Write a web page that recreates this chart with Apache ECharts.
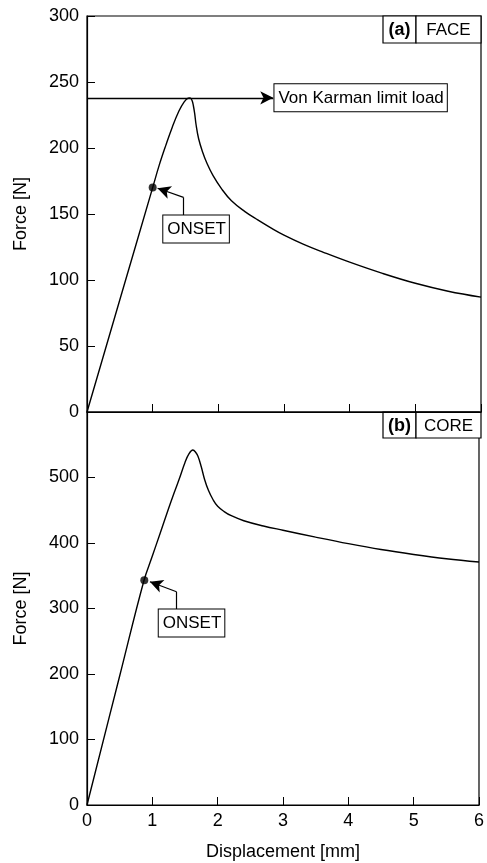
<!DOCTYPE html>
<html>
<head>
<meta charset="utf-8">
<script src="https://cdn.jsdelivr.net/npm/echarts@6/dist/echarts.min.js"></script>
<style>
html, body { margin: 0; padding: 0; background: #fff; }
#chart { width: 487px; height: 863px; }
</style>
</head>
<body>
<div id="chart"></div>
<script>
// (a) FACE panel: force vs displacement
var dispFace = [0, 0.5, 1.0, 1.1, 1.2, 1.3, 1.4, 1.48, 1.54, 1.57, 1.60, 1.62, 1.64, 1.66, 1.70, 1.76, 1.83, 1.92, 2.05, 2.2, 2.4, 2.6, 2.8, 3.0, 3.3, 3.6, 4.0, 4.5, 5.0, 5.5, 6.0];
var forceFace = [0, 85, 170, 187, 202, 216, 228, 235, 237.8, 238, 236, 232, 226, 218, 207, 197, 188, 179, 169, 160, 152, 145.5, 139.5, 134, 127, 121, 113.5, 105, 97.5, 91.5, 87];

// (b) CORE panel
var dispCore = [0, 0.5, 0.87, 1.0, 1.12, 1.25, 1.35, 1.42, 1.50, 1.56, 1.62, 1.66, 1.70, 1.75, 1.80, 1.86, 1.93, 2.0, 2.1, 2.2, 2.4, 2.7, 3.0, 3.5, 4.0, 4.5, 5.0, 5.5, 6.0];
var forceCore = [0, 197, 342, 380, 415, 453, 481, 500, 523, 536, 542, 539, 532, 516, 497, 480, 466, 456, 448, 442, 434, 426, 419.5, 409, 399, 390, 382.5, 376, 371];

var onsetFace = [1.0, 170];
var onsetCore = [0.877, 343];
var vonKarmanLoad = 238;

// annotation anchors, in data units
var vkArrowEnd = 2.836;
var vkBox = [4.167, 238];
var faceLeader = [[1.47, 148.5], [1.47, 162.6], [1.075, 169.5]];
var faceBox = [1.661, 138.6];
var coreLeader = [[1.37, 297.7], [1.37, 325.6], [0.963, 340.9]];
var coreBox = [1.60, 277.9];

var panelTags = ['(a)', '(b)'];
var panelNames = ['FACE', 'CORE'];

var FONT = 'Liberation Sans, Arial, Helvetica, sans-serif';

function zip(xs, ys) {
    return xs.map(function(x, i) { return [x, ys[i]]; });
}

function boxLabel(text) {
    return {
        show: true,
        position: 'inside',
        formatter: text,
        color: '#000',
        fontFamily: FONT,
        fontSize: 17,
        lineHeight: 20,
        backgroundColor: '#fff',
        borderColor: '#000',
        borderWidth: 1,
        padding: [4, 3, 3, 4]
    };
}

function leaderLine(pts) {
    return [
        [{coord: pts[0], symbol: 'none'}, {coord: pts[1], symbol: 'none'}],
        [{coord: pts[1], symbol: 'none'}, {coord: pts[2], symbol: 'arrow', symbolSize: [10, 13]}]
    ];
}

function xAxisOf(idx, withLabels) {
    return {
        gridIndex: idx,
        type: 'value',
        min: 0,
        max: 6,
        interval: 1,
        axisLine: {onZero: false, lineStyle: {color: '#000', width: 1.2}},
        axisTick: {inside: true, length: 8, lineStyle: {color: '#000'}},
        axisLabel: {show: withLabels, color: '#000', fontFamily: FONT, fontSize: 18, margin: 7},
        splitLine: {show: false},
        name: withLabels ? 'Displacement [mm]' : '',
        nameLocation: 'middle',
        nameGap: 38,
        nameTextStyle: {color: '#000', fontFamily: FONT, fontSize: 18}
    };
}

function yAxisOf(idx, max, step) {
    return {
        gridIndex: idx,
        type: 'value',
        min: 0,
        max: max,
        interval: step,
        axisLine: {onZero: false, lineStyle: {color: '#000', width: 1.2}},
        axisTick: {inside: true, length: 8, lineStyle: {color: '#000'}},
        axisLabel: {
            color: '#000', fontFamily: FONT, fontSize: 18, margin: 8,
            formatter: function(v) { return (idx === 1 && v === max) ? '' : v; }
        },
        splitLine: {show: false},
        name: 'Force [N]',
        nameLocation: 'middle',
        nameGap: 57,
        nameTextStyle: {color: '#000', fontFamily: FONT, fontSize: 18}
    };
}

function tagGroup(top, h, tag, name) {
    return {
        type: 'group',
        children: [
            {type: 'rect', shape: {x: 383, y: top, width: 33, height: h},
             style: {fill: '#fff', stroke: '#000', lineWidth: 1.2}},
            {type: 'text', style: {x: 399.5, y: top + h / 2 + 1, text: tag, align: 'center', verticalAlign: 'middle',
             fill: '#000', font: 'bold 18px ' + FONT}},
            {type: 'rect', shape: {x: 416, y: top, width: 65, height: h},
             style: {fill: '#fff', stroke: '#000', lineWidth: 1.2}},
            {type: 'text', style: {x: 448.5, y: top + h / 2 + 1, text: name, align: 'center', verticalAlign: 'middle',
             fill: '#000', font: '17px ' + FONT}}
        ]
    };
}

var lineStyle = {color: '#000', width: 1.4};

var option = {
    backgroundColor: '#fff',
    animation: false,
    grid: [
        {left: 87, right: 6, top: 16, height: 396, show: true, borderColor: '#000', borderWidth: 1.2, backgroundColor: 'transparent'},
        {left: 87, right: 6, top: 412, height: 393, show: true, borderColor: '#000', borderWidth: 1.2, backgroundColor: 'transparent'}
    ],
    xAxis: [xAxisOf(0, false), xAxisOf(1, true)],
    yAxis: [yAxisOf(0, 300, 50), yAxisOf(1, 600, 100)],
    series: [
        {
            name: 'FACE',
            type: 'line',
            xAxisIndex: 0,
            yAxisIndex: 0,
            data: zip(dispFace, forceFace),
            showSymbol: false,
            smooth: 0.4,
            lineStyle: lineStyle,
            silent: true,
            markLine: {
                silent: true,
                lineStyle: {color: '#000', type: 'solid', width: 1.4},
                label: {show: false},
                data: [
                    [{coord: [0, vonKarmanLoad], symbol: 'none'},
                     {coord: [vkArrowEnd, vonKarmanLoad], symbol: 'arrow', symbolSize: [10, 13]}]
                ]
            },
            markPoint: {
                silent: true,
                data: [{coord: vkBox, symbol: 'rect', symbolSize: 0, label: boxLabel('Von Karman limit load')}]
            }
        },
        {
            name: 'FACE onset',
            type: 'scatter',
            xAxisIndex: 0,
            yAxisIndex: 0,
            data: [onsetFace],
            symbolSize: 8,
            itemStyle: {color: '#000'},
            silent: true,
            markLine: {
                silent: true,
                lineStyle: {color: '#000', type: 'solid', width: 1.2},
                label: {show: false},
                data: leaderLine(faceLeader)
            },
            markPoint: {
                silent: true,
                data: [{coord: faceBox, symbol: 'rect', symbolSize: 0, label: boxLabel('ONSET')}]
            }
        },
        {
            name: 'CORE',
            type: 'line',
            xAxisIndex: 1,
            yAxisIndex: 1,
            data: zip(dispCore, forceCore),
            showSymbol: false,
            smooth: 0.4,
            lineStyle: lineStyle,
            silent: true
        },
        {
            name: 'CORE onset',
            type: 'scatter',
            xAxisIndex: 1,
            yAxisIndex: 1,
            data: [onsetCore],
            symbolSize: 8,
            itemStyle: {color: '#000'},
            silent: true,
            markLine: {
                silent: true,
                lineStyle: {color: '#000', type: 'solid', width: 1.2},
                label: {show: false},
                data: leaderLine(coreLeader)
            },
            markPoint: {
                silent: true,
                data: [{coord: coreBox, symbol: 'rect', symbolSize: 0, label: boxLabel('ONSET')}]
            }
        }
    ],
    graphic: [
        tagGroup(16, 27, panelTags[0], panelNames[0]),
        tagGroup(412, 26, panelTags[1], panelNames[1])
    ]
};

var myChart = echarts.init(document.getElementById('chart'));
myChart.setOption(option);
</script>
</body>
</html>
